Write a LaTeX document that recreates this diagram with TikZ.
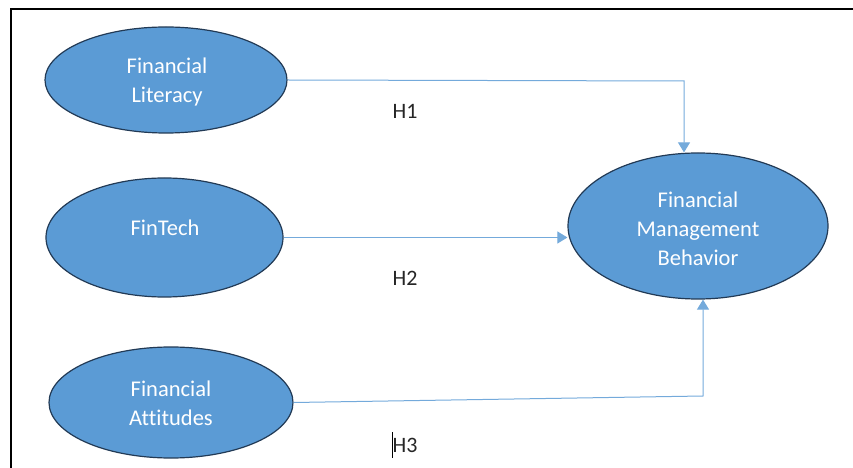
\documentclass[tikz,border=0pt]{standalone}
\usepackage{fontspec}
\setmainfont{Carlito}[Ligatures=NoCommon]
\usetikzlibrary{shapes.geometric,arrows.meta}
\definecolor{ellfill}{HTML}{5B9BD5}
\definecolor{elledge}{HTML}{223A55}
\definecolor{arrcol}{HTML}{5B9BD5}
\tikzset{
  ell/.style={ellipse,draw=elledge,line width=1.2bp,fill=ellfill,inner sep=0pt},
  ltext/.style={text=white,align=center,font=\fontsize{22.5bp}{29bp}\selectfont,inner sep=0pt},
  htext/.style={text=black!85,font=\fontsize{22bp}{29bp}\selectfont,inner sep=0pt},
  arr/.style={draw=arrcol!85,line width=1bp,-{Triangle[length=10bp,width=12bp]}},
  frameline/.style={line width=1.6bp,black}
}
\begin{document}
\begin{tikzpicture}[x=1bp,y=-1bp]
\useasboundingbox (0,0) rectangle (853,468);
% frame
\coordinate (fa0) at (11,468);
\coordinate (fa1) at (11,9);
\coordinate (fa2) at (853,9);
\draw[frameline] (fa0) -- (fa1) -- (fa2);
% ellipses
\node[ell,minimum width=242bp,minimum height=106bp] (fl) at (166,80) {};
\node[ltext] (flt) at (167,82) {Financial\\Literacy};
\node[ell,minimum width=237bp,minimum height=119bp] (ft) at (164.5,237.5) {};
\node[ltext] (ftt) at (165,228) {FinTech};
\node[ell,minimum width=244bp,minimum height=111bp] (fa) at (171,402.5) {};
\node[ltext] (fat) at (171,403) {Financial\\Attitudes};
\node[ell,minimum width=260bp,minimum height=146bp] (fmb) at (698,226) {};
\node[ltext] (fmbt) at (698,229) {Financial\\Management\\Behavior};
% connectors
\coordinate (h1c) at (684,81);
\draw[arr] (fl.east) -- (h1c) -- (h1c |- fmb.north);
\draw[arr] (ft.east) -- (ft.east -| fmb.west);
\coordinate (h3c) at (703,396);
\draw[arr] (fa.east) -- (h3c) -- (h3c |- fmb.south);
% labels
\node[htext] (h1) at (405,111) {H1};
\node[htext] (h2) at (405,278) {H2};
\node[htext] (h3) at (405,445) {H3};
\coordinate (cur0) at (392,432);
\coordinate (cur1) at (392,458);
\draw[line width=0.8bp,black] (cur0) -- (cur1);
\end{tikzpicture}
\end{document}
